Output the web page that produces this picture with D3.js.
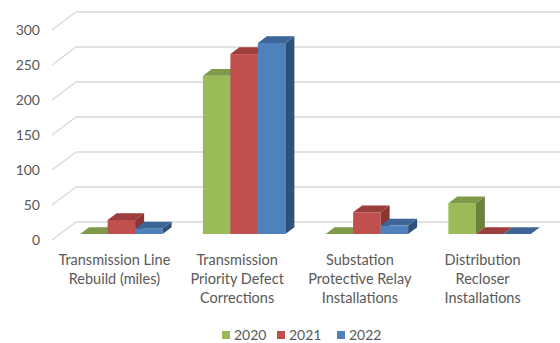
<!DOCTYPE html>
<html><head><meta charset="utf-8">
<script src="https://cdn.jsdelivr.net/npm/d3@7"></script>
<style>
html,body{margin:0;padding:0;background:#fff;}
svg{display:block;font-family:Lato,"Liberation Sans",sans-serif;}
</style></head>
<body>
<svg id="chart" width="560" height="343"></svg>
<script>
const categories = [
  ["Transmission Line","Rebuild (miles)"],
  ["Transmission","Priority Defect","Corrections"],
  ["Substation","Protective Relay","Installations"],
  ["Distribution","Recloser","Installations"]
];
const seriesNames = ["2020","2021","2022"];
const values2020 = [0, 226, 0, 44];
const values2021 = [20, 257, 31, 0];
const values2022 = [8, 273, 12, 0];
const yTicks = [0, 50, 100, 150, 200, 250, 300];

const colors = {
  "2020": {front:"#9BBB59", top:"#7E9A48", side:"#6A823A"},
  "2021": {front:"#C0504D", top:"#9C3E3B", side:"#8A3533"},
  "2022": {front:"#4F81BD", top:"#3D6597", side:"#2F507A"}
};
const seriesValues = {"2020":values2020,"2021":values2021,"2022":values2022};

const svg = d3.select("#chart");
const DX = 24, DY = -18;          // full depth offset
const d0 = 1/3, d1 = 1/3 + 9/24;  // bar front/back depth fractions

const x = d3.scaleBand().domain(d3.range(categories.length)).range([52, 543]).paddingInner(0).paddingOuter(0);
const y = d3.scaleLinear().domain([0, 300]).range([240, 30]);
const groupW = 82.5;
const xs = d3.scaleBand().domain(seriesNames).range([0, groupW]);

// gridlines (left wall diagonal + back wall)
const grid = svg.append("g");
yTicks.forEach(t => {
  const yf = y(t);
  grid.append("path")
    .attr("d", `M52,${yf} L${52+DX},${yf+DY} L560,${yf+DY}`)
    .attr("fill","none").attr("stroke","#D9D9D9").attr("stroke-width",1.3);
});
// y tick labels
svg.append("g").selectAll("text").data(yTicks).join("text")
  .attr("x", 40).attr("y", d => y(d) + 5)
  .attr("text-anchor","end").attr("font-size", 14).attr("fill","#595959")
  .text(d => d);

// bars
const bars = svg.append("g");
categories.forEach((c, i) => {
  seriesNames.forEach(s => {
    const v = seriesValues[s][i];
    const xf = x(i) + (x.bandwidth() - groupW)/2 + xs(s) + DX*d0;
    const w = xs.bandwidth();
    const yb = y(0) + DY*d0;
    const yt = y(v) + DY*d0;
    const ox = DX*(d1-d0), oy = DY*(d1-d0);
    const col = colors[s];
    bars.append("rect").attr("x", xf).attr("y", yt).attr("width", w).attr("height", Math.max(0, yb-yt))
      .attr("fill", col.front);
    bars.append("path").attr("d", `M${xf+w},${yt} L${xf+w+ox},${yt+oy} L${xf+w+ox},${yb+oy} L${xf+w},${yb} Z`)
      .attr("fill", col.side);
    bars.append("path").attr("d", `M${xf},${yt} L${xf+ox},${yt+oy} L${xf+w+ox},${yt+oy} L${xf+w},${yt} Z`)
      .attr("fill", col.top);
  });
});

// category labels
const lab = svg.append("g");
categories.forEach((lines, i) => {
  const cx = x(i) + x.bandwidth()/2 + 1;
  const t = lab.append("text").attr("text-anchor","middle").attr("font-size", 14.5).attr("fill","#595959");
  lines.forEach((ln, k) => {
    t.append("tspan").attr("x", cx).attr("y", 265 + k*18.8).text(ln);
  });
});

// legend
const legendX = [222, 277, 337];
const leg = svg.append("g");
seriesNames.forEach((s, k) => {
  leg.append("rect").attr("x", legendX[k]).attr("y", 331).attr("width", 8).attr("height", 8).attr("fill", colors[s].front);
  leg.append("text").attr("x", legendX[k] + 12).attr("y", 340).attr("font-size", 14).attr("fill","#595959").text(s);
});
</script>
</body></html>
